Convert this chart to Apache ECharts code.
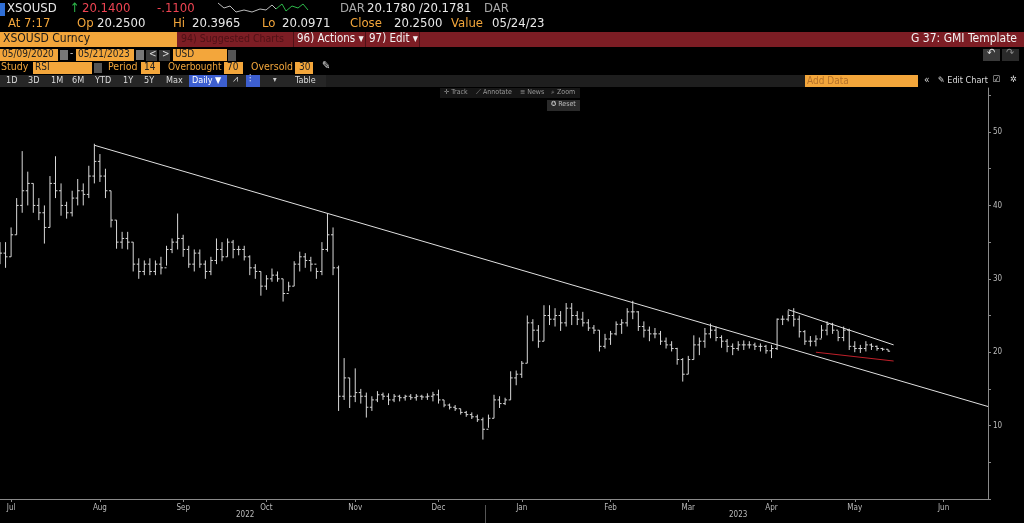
<!DOCTYPE html>
<html><head><meta charset="utf-8">
<script src="https://cdn.jsdelivr.net/npm/echarts@6/dist/echarts.min.js"></script>
<style>html,body{margin:0;padding:0;background:#000;}#c{width:1024px;height:523px;}</style>
</head><body><div id="c"></div>
<script>
// bars every 2 days starting 2022-06-27
const startDate = '2022-06-27';
const categoryCount = 179;
const highs = [35,35,37,41,47.4,44.6,43,41,40,44,46.7,43,40.5,42,43.6,43,45.4,48.4,47,45,42,38,36.4,36.4,35,32.8,32.5,32.8,32.5,33,34.5,35.5,38.9,36,34.5,34,34,32.5,33,35.5,35,35.5,35.3,34.5,34.5,33.2,32,31,30.5,31.4,31,30,29.6,32.4,33.7,33.5,33,31.5,35,38.9,37,31.8,19.2,16.5,17.8,15,14.5,14,14.7,14.5,14.4,14.3,14.2,14.2,14.3,14.3,14.2,14.4,14.6,14.9,13.5,13,12.8,12.3,12,11.8,11.5,11.1,11.5,14.2,14,13.8,17.4,17.5,18.8,25,24.5,23.7,26.4,26.4,26,25.6,26.7,26.7,25.6,25.5,24.5,23.7,23,22.5,22.9,24.2,24.5,26,27,25.6,24.2,23.5,23.3,22.9,22,21.5,20.6,19.2,19.5,22.3,22,23.3,23.9,23.5,22.3,21.8,21.2,21.5,21.6,21.5,21.3,21.2,21,21,24.6,25,25.7,26,25,23,22.2,22.3,23.7,24.2,24,22.9,23.5,23.2,21.5,21,21.5,21.2,20.9,20.6,20.4];
const lows = [32,31.5,33,36,39,40,39,38,34.8,37,41,38.6,38.2,38.5,40,40,41,43,43.2,41,37,34.1,34.1,34,31,30,30.5,30.5,30.5,30.6,31.8,33.5,34,33,31.5,31,31.5,30,30.5,32,32.4,33,32.8,33.2,32.5,30.5,30,27.7,28.5,29.6,29.6,26.9,28.3,29,31,31.5,31,30,30.5,33.7,30.5,12,13.5,12.4,13.2,13,11.1,12,13.2,13.5,12.8,13.2,13.3,13.4,13.5,13.4,13.5,13.5,13.3,13,12.5,12.2,12,11.5,11.2,10.9,10.5,8.1,9.7,11,12.4,12.8,13.5,15.5,16.5,18.5,21.5,20.6,21.5,23.7,23.5,22.9,23.5,23.7,23.7,23.5,22.9,22.5,20.1,20.5,21,22.3,22.5,23.5,24.5,22.9,22,21.5,21.9,21,20.5,20.1,18.3,16,17,19,19.6,20.6,21.9,21.5,20.6,20,19.6,20.2,20.3,20.5,20.3,20.1,19.8,19.2,20.3,23.7,24.2,23.5,22,21,20.8,20.8,21.9,22.3,22.5,21.5,21.5,20.3,20,19.9,20.1,20.3,20.2,20.2,20.1];
const closes = [33.5,33,36,40,42,43,40,39,37,43,42,40,39,41,42,41.5,44,46,44,42,38,35,35.5,35,32,31,32,31,32,31.5,34,35,35.5,34,32,33.5,32,31,32.5,34,33,35,34,34,33,31.5,31,29,30,30.5,30,28,29,32,33,32.5,32,31,34,36,31.5,14,16.5,14,14.5,14,12.5,13.5,14.2,14,13.5,14,13.8,14,13.8,14,13.9,14,14.2,13.5,12.8,12.5,12.3,11.8,11.5,11.2,10.8,9.5,11,13.5,13,13.5,16.5,17,18.5,24,23,21.5,25,24.5,25,24,26,25,24.5,24,23.3,23,20.8,21.8,22.5,23.8,24,25.5,25.5,23.5,23,22.5,22.5,21.5,21,20.5,19,17,19,21,21.5,22.5,23,22,21.5,20.8,20.5,21,21,21,20.8,20.8,20.2,20.5,24.5,24.5,25,24.5,22.8,21.5,21.5,21.8,23,23.8,23,22,23,20.8,20.5,20.5,21,20.8,20.5,20.4,20.14];
const opens = [34,33.5,33,36,40,42,43,40,39,37,43,42,40,39,41,42,41.5,44,46,44,42,38,35,35.5,35,32,31,32,31,32,31.5,34,35,35.5,34,32,33.5,32,31,32.5,34,33,35,34,34,33,31.5,31,29,30,30.5,30,28,29,32,33,32.5,32,31,34,36,31.5,14,16.5,14,14.5,14,12.5,13.5,14.2,14,13.5,14,13.8,14,13.8,14,13.9,14,14.2,13.5,12.8,12.5,12.3,11.8,11.5,11.2,10.8,9.5,11,13.5,13,13.5,16.5,17,18.5,24,23,21.5,25,24.5,25,24,26,25,24.5,24,23.3,23,20.8,21.8,22.5,23.8,24,25.5,25.5,23.5,23,22.5,22.5,21.5,21,20.5,19,17,19,21,21.5,22.5,23,22,21.5,20.8,20.5,21,21,21,20.8,20.8,20.2,20.5,24.5,24.5,25,24.5,22.8,21.5,21.5,21.8,23,23.8,23,22,23,20.8,20.5,20.5,21,20.8,20.5,20.4];
// trend lines: [categoryIndex, price]
const trendMain = [[17,48.2],[178,12.6]];
const trendUpper = [[142,25.8],[161,21.0]];
const trendRed = [[147,20.0],[161,18.8]];
const lastPrice = 20.14;
const monthNames = ['Jan','Feb','Mar','Apr','May','Jun','Jul','Aug','Sep','Oct','Nov','Dec'];

const cats = [];
{ const d0 = new Date(startDate+'T00:00:00Z');
  for (let i=0;i<categoryCount;i++){ const d=new Date(d0.getTime()+i*2*86400000); cats.push(d.toISOString().slice(0,10)); } }
const isMonthStart = (i)=> i>0 && cats[i].slice(5,7)!==cats[i-1].slice(5,7);
const ohlc = closes.map((c,i)=>[i,opens[i],highs[i],lows[i],c]);
const toLine = arr => arr.map(p=>[cats[p[0]],p[1]]);

const F = '"DejaVu Sans Condensed", "Liberation Sans", sans-serif';
const ORG='#f3a63b', RED='#7c1d24', W='#e8e8e8';
function txt(x,y,t,fill,size,extra){return Object.assign({type:'text',left:x,top:y,style:{text:t,fill:fill,font:(size||13)+'px '+F}},extra||{});}
function box(x,y,w,h,fill){return {type:'rect',shape:{x:x,y:y,width:w,height:h},style:{fill:fill}};}
const g = [
  box(0,3,5,13,'#2f6fd8'),
  txt(7,2,'XSOUSD',W,13),
  txt(70,2,'↑','#2db84a',13), txt(82,2,'20.1400','#ef4452',13), txt(157,2,'-.1100','#ef4452',13),
  {type:'polyline',shape:{points:[[218,3],[224,8],[230,6],[236,12],[244,10],[252,12],[260,9],[266,10],[272,5],[276,9]]},style:{stroke:'#bbb',lineWidth:1,fill:null}},
  {type:'polyline',shape:{points:[[276,9],[282,4],[286,11],[292,6],[298,8],[303,4],[308,10]]},style:{stroke:'#2db84a',lineWidth:1,fill:null}},
  txt(340,2,'DAR','#a8a8a8',13), txt(367,2,'20.1780 /20.1781',W,13), txt(484,2,'DAR','#a8a8a8',13),
  txt(8,17,'At 7:17',ORG,13), txt(77,17,'Op',ORG,13), txt(97,17,'20.2500',W,13),
  txt(173,17,'Hi',ORG,13), txt(192,17,'20.3965',W,13), txt(262,17,'Lo',ORG,13), txt(282,17,'20.0971',W,13),
  txt(350,17,'Close',ORG,13), txt(394,17,'20.2500',W,13), txt(451,17,'Value',ORG,13), txt(492,17,'05/24/23',W,13),
  box(0,32,1024,15,RED), box(0,32,177,15,ORG),
  txt(3,33,'XSOUSD Curncy','#1a1a1a',12),
  txt(181,34,'94) Suggested Charts','#4e1116',10.5),
  box(293,32,1,15,'#4e1116'), txt(297,33,'96) Actions ▾','#f2f2f2',11.5),
  box(365,32,1,15,'#4e1116'), txt(369,33,'97) Edit ▾','#f2f2f2',11.5),
  box(419,32,1,15,'#4e1116'),
  txt(1017,33,'G 37: GMI Template','#f2f2f2',12,{left:null,right:7}),
  box(0,49,58,12,ORG), txt(2,49,'05/09/2020','#222',10), box(60,50,8,10,'#777'),
  txt(70,48,'-','#ccc',10), box(76,49,58,12,ORG), txt(78,49,'05/21/2023','#222',10), box(136,50,8,10,'#777'),
  box(146,50,11,11,'#3a3a3a'), txt(149,49,'<','#ddd',10), box(159,50,11,11,'#3a3a3a'), txt(162,49,'>','#ddd',10),
  box(173,49,54,12,ORG), txt(175,49,'USD','#222',10), box(228,50,8,11,'#555'),
  box(983,49,17,12,'#3a3a3a'), txt(987,48,'↶','#ddd',11), box(1002,49,17,12,'#2a2a2a'), txt(1006,48,'↷','#888',11),
  txt(1,62,'Study',ORG,10.5), box(33,62,59,12,ORG), txt(35,62,'RSI','#222',10), box(94,63,8,10,'#555'),
  txt(108,62,'Period',ORG,10.5), box(141,62,19,12,ORG), txt(144,62,'14','#222',10),
  txt(168,62,'Overbought',ORG,10), box(224,62,19,12,ORG), txt(227,62,'70','#222',10),
  txt(251,62,'Oversold',ORG,10.5), box(295,62,18,12,ORG), txt(299,62,'30','#222',10),
  txt(322,61,'✎','#ddd',11),
  box(0,75,326,12,'#262626'), box(326,75,480,12,'#1e1e1e'),
  txt(6,76,'1D','#ddd',9), txt(28,76,'3D','#ddd',9), txt(51,76,'1M','#ddd',9), txt(72,76,'6M','#ddd',9),
  txt(95,76,'YTD','#ddd',9), txt(123,76,'1Y','#ddd',9), txt(144,76,'5Y','#ddd',9), txt(166,76,'Max','#ddd',9),
  box(189,75,38,12,'#3d5fd0'), txt(192,76,'Daily ▼','#fff',9),
  txt(233,75,'⩘','#ddd',9), box(246,75,14,12,'#3d5fd0'), txt(249,75,'⫶','#fff',9), txt(273,76,'▾','#ccc',8),
  txt(295,76,'Table','#ddd',9),
  box(805,75,113,12,ORG), txt(807,76,'Add Data','#b5722a',10),
  txt(924,75,'«','#ddd',10), txt(938,76,'✎ Edit Chart','#ddd',9), txt(993,75,'☑','#ddd',9), txt(1010,75,'✲','#ddd',9),
  box(440,88,140,10,'#161616'),
  txt(444,89,'✛ Track','#999',7), txt(476,89,'⟋ Annotate','#999',7), txt(520,89,'≡ News','#999',7), txt(551,89,'⌕ Zoom','#999',7),
  box(547,100,33,11,'#2a2a2a'), txt(551,101,'✪ Reset','#bbb',7),
  txt(236,511,'2022','#bbb',8), txt(729,511,'2023','#bbb',8),
  {type:'rect',shape:{x:485,y:505,width:1,height:18},style:{fill:'#555'}}
];

const chart = echarts.init(document.getElementById('c'));
chart.setOption({
  backgroundColor:'#000',
  animation:false,
  grid:{left:0,right:36,top:88,bottom:24},
  xAxis:{type:'category',data:cats,boundaryGap:false,
    axisLine:{lineStyle:{color:'#8a8a8a'}},
    axisTick:{interval:(i)=>isMonthStart(i),length:3,lineStyle:{color:'#8a8a8a'}},
    axisLabel:{interval:(i)=>isMonthStart(i),color:'#bbb',fontSize:8,fontFamily:F,margin:5,
      formatter:(v)=>monthNames[parseInt(v.slice(5,7),10)-1]},
    splitLine:{show:false}},
  yAxis:{type:'value',position:'right',min:0,max:56,interval:5,
    axisLine:{show:true,lineStyle:{color:'#8a8a8a'}},
    axisTick:{show:true,length:3,lineStyle:{color:'#8a8a8a'}},
    axisLabel:{color:'#bbb',fontSize:8,fontFamily:F,margin:5,showMaxLabel:false,
      formatter:(v)=>(v%10===0&&v>0)?String(v):''},
    splitLine:{show:false}},
  graphic:g,
  series:[
    {type:'custom',data:ohlc,encode:{x:0,y:[1,2,3,4]},
     renderItem:function(params,api){
       const x=api.value(0);
       const o=api.coord([x,api.value(1)]), h=api.coord([x,api.value(2)]),
             l=api.coord([x,api.value(3)]), c=api.coord([x,api.value(4)]);
       const st={stroke:'#d8d8d8',lineWidth:1};
       return {type:'group',children:[
         {type:'line',shape:{x1:h[0],y1:h[1],x2:l[0],y2:l[1]},style:st},
         {type:'line',shape:{x1:o[0]-2,y1:o[1],x2:o[0],y2:o[1]},style:st},
         {type:'line',shape:{x1:c[0],y1:c[1],x2:c[0]+2,y2:c[1]},style:st}]};
     }},
    {type:'line',data:toLine(trendMain),symbol:'none',lineStyle:{color:'#e0e0e0',width:1}},
    {type:'line',data:toLine(trendUpper),symbol:'none',lineStyle:{color:'#e0e0e0',width:1}},
    {type:'line',data:toLine(trendRed),symbol:'none',lineStyle:{color:'#c0202a',width:1},
     markLine:{silent:true,symbol:'none',data:[{yAxis:lastPrice}],lineStyle:{opacity:0},
       label:{position:'end',formatter:()=>lastPrice.toFixed(4),color:'#fff',fontSize:8,fontFamily:F,
         backgroundColor:'#000',borderColor:'#ddd',borderWidth:1,padding:[2,2],distance:3}}}
  ]
});
</script></body></html>
